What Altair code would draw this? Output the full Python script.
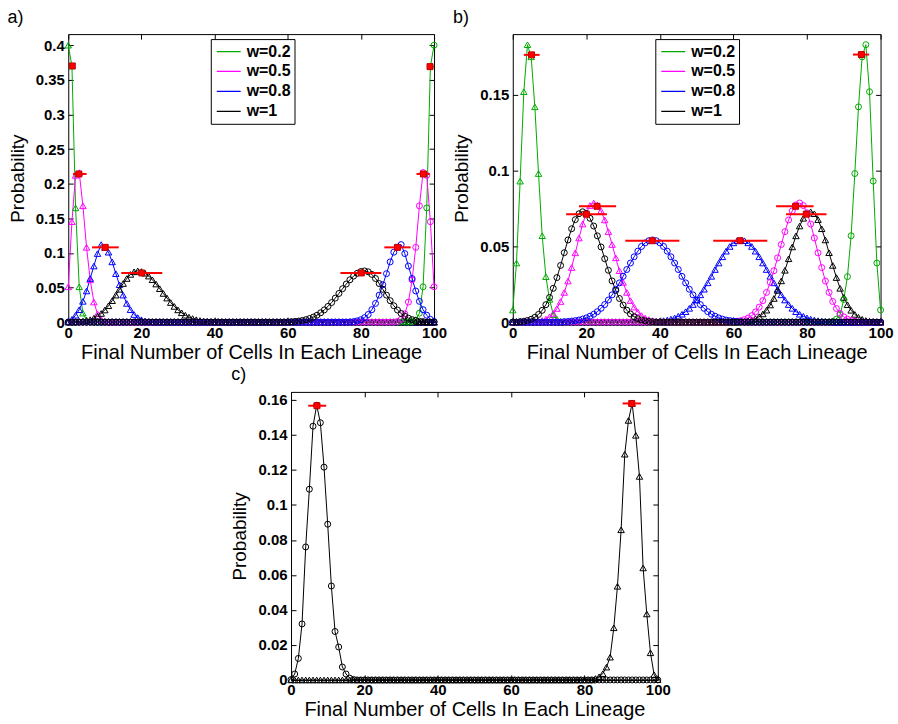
import altair as alt
import pandas as pd

FONT = "Liberation Sans"
X_TICKS = [0, 20, 40, 60, 80, 100]
W_LABELS = ["w=0.2", "w=0.5", "w=0.8", "w=1"]
W_COLORS = ["#00aa00", "#ff00ff", "#0000ff", "#000000"]
X_TITLE = "Final Number of Cells In Each Lineage"
Y_TITLE = "Probability"

# ---------------- panel a ----------------
A_Y_TICKS = [0, 0.05, 0.1, 0.15, 0.2, 0.25, 0.3, 0.35, 0.4]
A_Y_MAX = 0.416
a_g_tri_x0 = 0
a_g_tri = [0.400, 0.370, 0.165, 0.051, 0.013, 0.003, 0.0005]
a_g_circ_x0 = 94
a_g_circ = [0.0005, 0.003, 0.013, 0.051, 0.165, 0.369, 0.400]
a_m_tri_x0 = 0
a_m_tri = [0.051, 0.145, 0.212, 0.216, 0.168, 0.108, 0.061, 0.029, 0.012, 0.004, 0.001]
a_m_circ_x0 = 90
a_m_circ = [0.001, 0.004, 0.012, 0.029, 0.061, 0.108, 0.168, 0.216, 0.212, 0.145, 0.051]
a_b_tri_x0 = 0
a_b_tri = [0.001, 0.004, 0.010, 0.018, 0.030, 0.045, 0.063, 0.081, 0.099, 0.112, 0.108, 0.101,
           0.087, 0.070, 0.054, 0.039, 0.027, 0.018, 0.011, 0.0065, 0.0035, 0.0018, 0.0008, 0.0003]
a_b_circ_x0 = 77
a_b_circ = [0.0003, 0.0008, 0.0018, 0.0035, 0.0065, 0.011, 0.018, 0.027, 0.039, 0.054, 0.070, 0.087,
            0.101, 0.108, 0.112, 0.099, 0.081, 0.063, 0.045, 0.030, 0.018, 0.010, 0.004, 0.001]
a_k_tri_x0 = 3
a_k_tri = [0.0008, 0.0013, 0.0023, 0.0036, 0.0057, 0.0086, 0.0125, 0.0175, 0.0237, 0.031,
           0.039, 0.0474, 0.0557, 0.063, 0.0689, 0.0727, 0.074, 0.0731, 0.0706, 0.0665,
           0.0612, 0.055, 0.0483, 0.0414, 0.0347, 0.0283, 0.0227, 0.0177, 0.0135, 0.0100,
           0.0073, 0.0052, 0.0036, 0.0024, 0.0016, 0.0010, 0.0006, 0.0004]
a_k_circ_x0 = 60
a_k_circ = [0.0004, 0.0006, 0.0010, 0.0016, 0.0024, 0.0036, 0.0052, 0.0073, 0.0100, 0.0135,
            0.0177, 0.0227, 0.0283, 0.0347, 0.0414, 0.0483, 0.055, 0.0612, 0.0665, 0.0706,
            0.0731, 0.074, 0.0727, 0.0689, 0.063, 0.0557, 0.0474, 0.039, 0.031, 0.0237,
            0.0175, 0.0125, 0.0086, 0.0057, 0.0036, 0.0023, 0.0013, 0.0008]
A_BAR_X = [1.1, 2.9, 10.1, 20.1, 80.1, 90.0, 97.1, 98.9]
A_BAR_Y = [0.370, 0.214, 0.108, 0.071, 0.071, 0.108, 0.214, 0.369]
A_BAR_LO = [0.5, 1.3, 6.5, 14.5, 74.4, 86.4, 95.2, 98.3]
A_BAR_HI = [1.7, 5.0, 13.8, 25.7, 85.6, 93.6, 98.8, 99.5]

# ---------------- panel b ----------------
B_Y_TICKS = [0, 0.05, 0.1, 0.15]
B_Y_MAX = 0.19
b_g_tri_x0 = 0
b_g_tri = [0.008, 0.039, 0.093, 0.152, 0.183, 0.175, 0.142, 0.098, 0.057, 0.030, 0.015, 0.005, 0.002, 0.0005]
b_g_circ_x0 = 87
b_g_circ = [0.0005, 0.002, 0.005, 0.015, 0.030, 0.057, 0.098, 0.142, 0.175, 0.183, 0.152, 0.093, 0.039, 0.008]
b_m_tri_x0 = 7
b_m_tri = [0.0006, 0.0011, 0.002, 0.0035, 0.0057, 0.009, 0.0136, 0.0196, 0.0271, 0.036,
           0.0457, 0.0555, 0.0647, 0.0721, 0.0769, 0.0786, 0.0773, 0.0734, 0.0674, 0.0597,
           0.0512, 0.0424, 0.0339, 0.0262, 0.0196, 0.0142, 0.0099, 0.0067, 0.0043, 0.0027,
           0.0017, 0.001, 0.0006, 0.0003]
b_m_circ_x0 = 60
b_m_circ = [0.0003, 0.0006, 0.001, 0.0017, 0.0027, 0.0043, 0.0067, 0.0099, 0.0142, 0.0196,
            0.0262, 0.0339, 0.0424, 0.0512, 0.0597, 0.0674, 0.0734, 0.0773, 0.0786, 0.0769,
            0.0721, 0.0647, 0.0555, 0.0457, 0.036, 0.0271, 0.0196, 0.0136, 0.009, 0.0057,
            0.0035, 0.002, 0.0011, 0.0006]
b_b_circ_x0 = 14
b_b_circ = [0.0003, 0.0004, 0.0007, 0.001, 0.0014, 0.002, 0.0028, 0.0039, 0.0052, 0.0069,
            0.0091, 0.0116, 0.0146, 0.018, 0.0217, 0.0259, 0.0302, 0.0347, 0.039, 0.0431,
            0.0468, 0.0499, 0.0523, 0.0537, 0.0542, 0.0537, 0.0523, 0.0499, 0.0468, 0.0431,
            0.039, 0.0347, 0.0302, 0.0259, 0.0217, 0.018, 0.0146, 0.0116, 0.0091, 0.0069,
            0.0052, 0.0039, 0.0028, 0.002, 0.0014, 0.001, 0.0007, 0.0004, 0.0003]
b_b_tri_x0 = 38
b_b_tri = [0.0003, 0.0004, 0.0007, 0.001, 0.0014, 0.002, 0.0028, 0.0039, 0.0052, 0.0069,
           0.0091, 0.0116, 0.0146, 0.018, 0.0217, 0.0259, 0.0302, 0.0347, 0.039, 0.0431,
           0.0468, 0.0499, 0.0523, 0.0537, 0.0542, 0.0537, 0.0523, 0.0499, 0.0468, 0.0431,
           0.039, 0.0347, 0.0302, 0.0259, 0.0217, 0.018, 0.0146, 0.0116, 0.0091, 0.0069,
           0.0052, 0.0039, 0.0028, 0.002, 0.0014, 0.001, 0.0007, 0.0004, 0.0003]
b_k_circ_x0 = 2
b_k_circ = [0.0003, 0.0006, 0.0011, 0.0019, 0.0032, 0.0051, 0.0078, 0.0115, 0.0163, 0.0223,
            0.0294, 0.0374, 0.0458, 0.0542, 0.0616, 0.0676, 0.0715, 0.0728, 0.0717, 0.0685,
            0.0634, 0.0569, 0.0496, 0.0418, 0.0342, 0.0272, 0.0209, 0.0156, 0.0113, 0.0079,
            0.0054, 0.0036, 0.0023, 0.0014, 0.0009, 0.0005, 0.0003]
b_k_tri_x0 = 62
b_k_tri = [0.0003, 0.0005, 0.0009, 0.0014, 0.0023, 0.0036, 0.0054, 0.0079, 0.0113, 0.0156,
           0.0209, 0.0272, 0.0342, 0.0418, 0.0496, 0.0569, 0.0634, 0.0685, 0.0717, 0.0728,
           0.0715, 0.0676, 0.0616, 0.0542, 0.0458, 0.0374, 0.0294, 0.0223, 0.0163, 0.0115,
           0.0078, 0.0051, 0.0032, 0.0019, 0.0011, 0.0006, 0.0003]
B_BAR_X = [5.1, 20.0, 22.9, 37.9, 61.8, 76.9, 79.8, 94.8]
B_BAR_Y = [0.1763, 0.0712, 0.0764, 0.0537, 0.0537, 0.0764, 0.0712, 0.1765]
B_BAR_LO = [3.0, 14.5, 18.0, 30.6, 54.5, 71.6, 74.3, 92.5]
B_BAR_HI = [7.3, 25.6, 28.1, 45.3, 69.2, 81.8, 85.3, 96.9]

# ---------------- panel c ----------------
C_Y_TICKS = [0, 0.02, 0.04, 0.06, 0.08, 0.1, 0.12, 0.14, 0.16]
C_Y_MAX = 0.1646
c_k_circ_x0 = 0
c_k_circ = [0.0002, 0.0034, 0.0123, 0.032, 0.076, 0.109, 0.145, 0.157, 0.147, 0.1216,
            0.089, 0.0537, 0.0277, 0.0188, 0.0074, 0.0034, 0.001, 0.0003]
c_k_tri_x0 = 83
c_k_tri = [0.0008, 0.0018, 0.0036, 0.0073, 0.013, 0.0298, 0.0535, 0.0858, 0.129, 0.1483,
           0.158, 0.1398, 0.1163, 0.064, 0.0377, 0.0155, 0.003, 0.0002]
C_BAR_X = [7.07, 92.9]
C_BAR_Y = [0.1567, 0.158]
C_BAR_LO = [4.7, 90.4]
C_BAR_HI = [9.6, 95.4]

A_SERIES = [
    ("w=0.2", "tri", a_g_tri_x0, a_g_tri), ("w=0.2", "circ", a_g_circ_x0, a_g_circ),
    ("w=0.5", "tri", a_m_tri_x0, a_m_tri), ("w=0.5", "circ", a_m_circ_x0, a_m_circ),
    ("w=0.8", "tri", a_b_tri_x0, a_b_tri), ("w=0.8", "circ", a_b_circ_x0, a_b_circ),
    ("w=1", "tri", a_k_tri_x0, a_k_tri), ("w=1", "circ", a_k_circ_x0, a_k_circ),
]
B_SERIES = [
    ("w=0.2", "tri", b_g_tri_x0, b_g_tri), ("w=0.2", "circ", b_g_circ_x0, b_g_circ),
    ("w=0.5", "tri", b_m_tri_x0, b_m_tri), ("w=0.5", "circ", b_m_circ_x0, b_m_circ),
    ("w=0.8", "tri", b_b_tri_x0, b_b_tri), ("w=0.8", "circ", b_b_circ_x0, b_b_circ),
    ("w=1", "tri", b_k_tri_x0, b_k_tri), ("w=1", "circ", b_k_circ_x0, b_k_circ),
]
C_SERIES = [
    ("w=1", "circ", c_k_circ_x0, c_k_circ), ("w=1", "tri", c_k_tri_x0, c_k_tri),
]


def series_frame(series):
    rows = []
    for w, m, start, vals in series:
        for x in range(101):
            i = x - start
            p = vals[i] if 0 <= i < len(vals) else 0.0
            rows.append({"x": x, "p": p, "w": w, "m": m, "sid": w + "-" + m})
    return pd.DataFrame(rows)


def x_bottom():
    return alt.Axis(orient="bottom", values=X_TICKS, offset=-5, tickSize=5, tickColor="black",
                    tickWidth=1, domain=False, grid=False, labelFont=FONT, labelFontSize=15,
                    labelFontWeight="bold", labelColor="black", labelPadding=3, labelFlush=False,
                    labelOverlap=False, title=X_TITLE, titleFont=FONT, titleFontSize=20,
                    titleFontWeight="normal", titleColor="black", titlePadding=2)


def y_left(ticks):
    return alt.Axis(orient="left", values=ticks, format="~g", offset=-5, tickSize=5,
                    tickColor="black", tickWidth=1, domain=False, grid=False, labelFont=FONT,
                    labelFontSize=15, labelFontWeight="bold", labelColor="black", labelPadding=4,
                    labelFlush=False, labelOverlap=False, title=Y_TITLE, titleFont=FONT,
                    titleFontSize=19, titleFontWeight="normal", titleColor="black", titlePadding=8)


def x_top():
    return alt.Axis(orient="top", values=X_TICKS, offset=-5, tickSize=5, tickColor="black",
                    tickWidth=1, domain=False, grid=False, labels=False, title=None)


def y_right(ticks):
    return alt.Axis(orient="right", values=ticks, offset=-5, tickSize=5, tickColor="black",
                    tickWidth=1, domain=False, grid=False, labels=False, title=None)


def make_panel(series, bx, by, blo, bhi, y_max, y_ticks, tag, tag_x, tag_y, width, legend):
    df = series_frame(series)
    bars = pd.DataFrame({"cx": bx, "cy": by, "lo": blo, "hi": bhi})
    xs = alt.Scale(domain=[0, 100], nice=False, zero=False)
    ys = alt.Scale(domain=[0, y_max], nice=False, zero=False)
    if legend:
        color = alt.Color("w:N", scale=alt.Scale(domain=W_LABELS, range=W_COLORS),
                          legend=alt.Legend(orient="none", legendX=143, legendY=5, title=None,
                                            symbolType="stroke", symbolSize=576,
                                            symbolStrokeWidth=1.3, symbolOffset=2,
                                            clipHeight=19, labelFont=FONT,
                                            labelFontSize=16, labelFontWeight="bold",
                                            labelColor="black", labelOffset=5, padding=3,
                                            rowPadding=1, strokeColor="black",
                                            fillColor="white"))
        stroke = alt.Stroke("w:N", scale=alt.Scale(domain=W_LABELS, range=W_COLORS), legend=None)
    else:
        color = alt.value("#000000")
        stroke = alt.value("#000000")
    base = alt.Chart(df)
    lines = base.mark_line(strokeWidth=1).encode(
        x=alt.X("x:Q", scale=xs, axis=x_bottom()),
        y=alt.Y("p:Q", scale=ys, axis=y_left(y_ticks)),
        color=color, detail="sid:N")
    tri = base.transform_filter(alt.datum.m == "tri").mark_point(
        shape="triangle-up", size=42, filled=False, strokeWidth=1, opacity=1).encode(
        x=alt.X("x:Q", scale=xs, axis=None), y=alt.Y("p:Q", scale=ys, axis=None),
        stroke=stroke, detail="sid:N")
    circ = base.transform_filter(alt.datum.m == "circ").mark_point(
        shape="circle", size=36, filled=False, strokeWidth=1, opacity=1).encode(
        x=alt.X("x:Q", scale=xs, axis=None), y=alt.Y("p:Q", scale=ys, axis=None),
        stroke=stroke, detail="sid:N")
    rules = alt.Chart(bars).mark_rule(color="#ff0000", strokeWidth=2).encode(
        x=alt.X("lo:Q", scale=xs, axis=None), x2="hi:Q",
        y=alt.Y("cy:Q", scale=ys, axis=None))
    squares = alt.Chart(bars).mark_point(shape="square", size=36, filled=True, fill="#ff0000",
                                         stroke="#c00000", strokeWidth=1, opacity=1).encode(
        x=alt.X("cx:Q", scale=xs, axis=x_top()),
        y=alt.Y("cy:Q", scale=ys, axis=y_right(y_ticks)))
    label = alt.Chart(pd.DataFrame({"t": [tag]})).mark_text(
        align="left", baseline="alphabetic", font=FONT, fontSize=18, color="black").encode(
        x=alt.value(tag_x), y=alt.value(tag_y), text="t:N")
    return alt.layer(lines, tri, circ, rules, squares, label).resolve_axis(
        x="independent", y="independent").properties(width=width, height=289)


pa = make_panel(A_SERIES, A_BAR_X, A_BAR_Y, A_BAR_LO, A_BAR_HI, A_Y_MAX, A_Y_TICKS,
                "a)", -61, -11, 367, True)
pb = make_panel(B_SERIES, B_BAR_X, B_BAR_Y, B_BAR_LO, B_BAR_HI, B_Y_MAX, B_Y_TICKS,
                "b)", -60, -11, 369, True)
pc = make_panel(C_SERIES, C_BAR_X, C_BAR_Y, C_BAR_LO, C_BAR_HI, C_Y_MAX, C_Y_TICKS,
                "c)", -60, -12, 368, False)

top = alt.hconcat(pa, pb, spacing=79, bounds="flush").resolve_scale(color="independent")
chart = alt.vconcat(top, pc, spacing=2, center=True).properties(
    padding={"left": 6, "top": 7, "right": 4, "bottom": 4},
    background="white",
).configure_view(stroke="black", strokeWidth=1)

chart.save("out.html", embed_options={"renderer": "svg", "actions": False})
